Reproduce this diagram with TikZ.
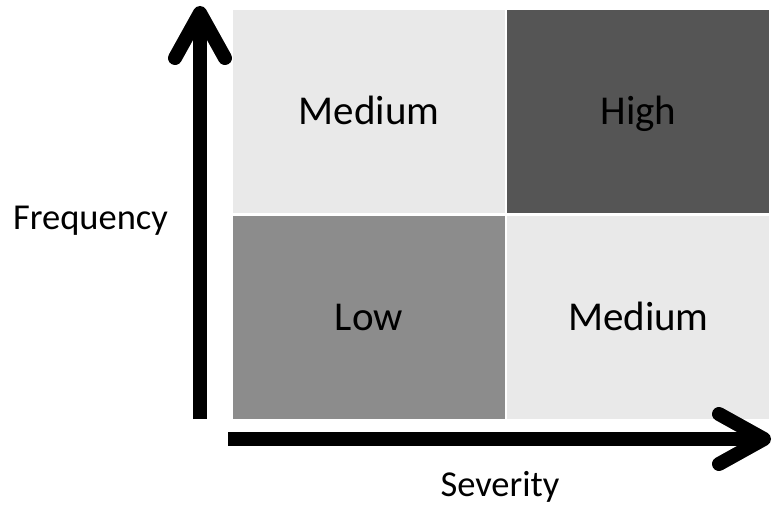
\documentclass[tikz,border=0pt]{standalone}
\usepackage{fontspec}
\setmainfont{Carlito}
\usetikzlibrary{positioning,arrows.meta}
\definecolor{lightcell}{HTML}{E9E9E9}
\definecolor{midcell}{HTML}{8C8C8C}
\definecolor{darkcell}{HTML}{555555}
\begin{document}
\begin{tikzpicture}[x=1pt, y=-1pt, node distance={3pt},
  cell/.style = {inner sep=0pt, minimum width=272pt, minimum height=203pt, text height=26pt, text depth=0pt, font=\fontsize{41}{49}\selectfont},
  axis/.style = {line width=14pt, -{Straight Barb[round, length=45pt, width=50pt]}},
  axislabel/.style = {text height=20pt, text depth=0pt, font=\fontsize{36.5}{44}\selectfont}]
\useasboundingbox (0,0) rectangle (772,508);

\node[cell, fill=lightcell] (tl) at (369,111.5) {Medium};
\node[cell, fill=darkcell, minimum width=262pt] (tr) [right=2pt of tl] {High};
\node[cell, fill=midcell] (bl) [below of=tl, node distance=206pt] {Low};
\node[cell, fill=lightcell, minimum width=262pt] (br) [below of=tr, node distance=206pt] {Medium};

\coordinate (ybot) at (200,419);
\coordinate (ytop) at (200,6);
\coordinate (xleft) at (228,439);
\coordinate (xright) at (771,439);

\draw[axis] (ybot) -- (ytop);
\draw[axis] (xleft) -- (xright);

\node[axislabel] (freq) at (90.5,219.5) {Frequency};
\node[axislabel] (sev) at (500,486) {Severity};

\end{tikzpicture}
\end{document}
